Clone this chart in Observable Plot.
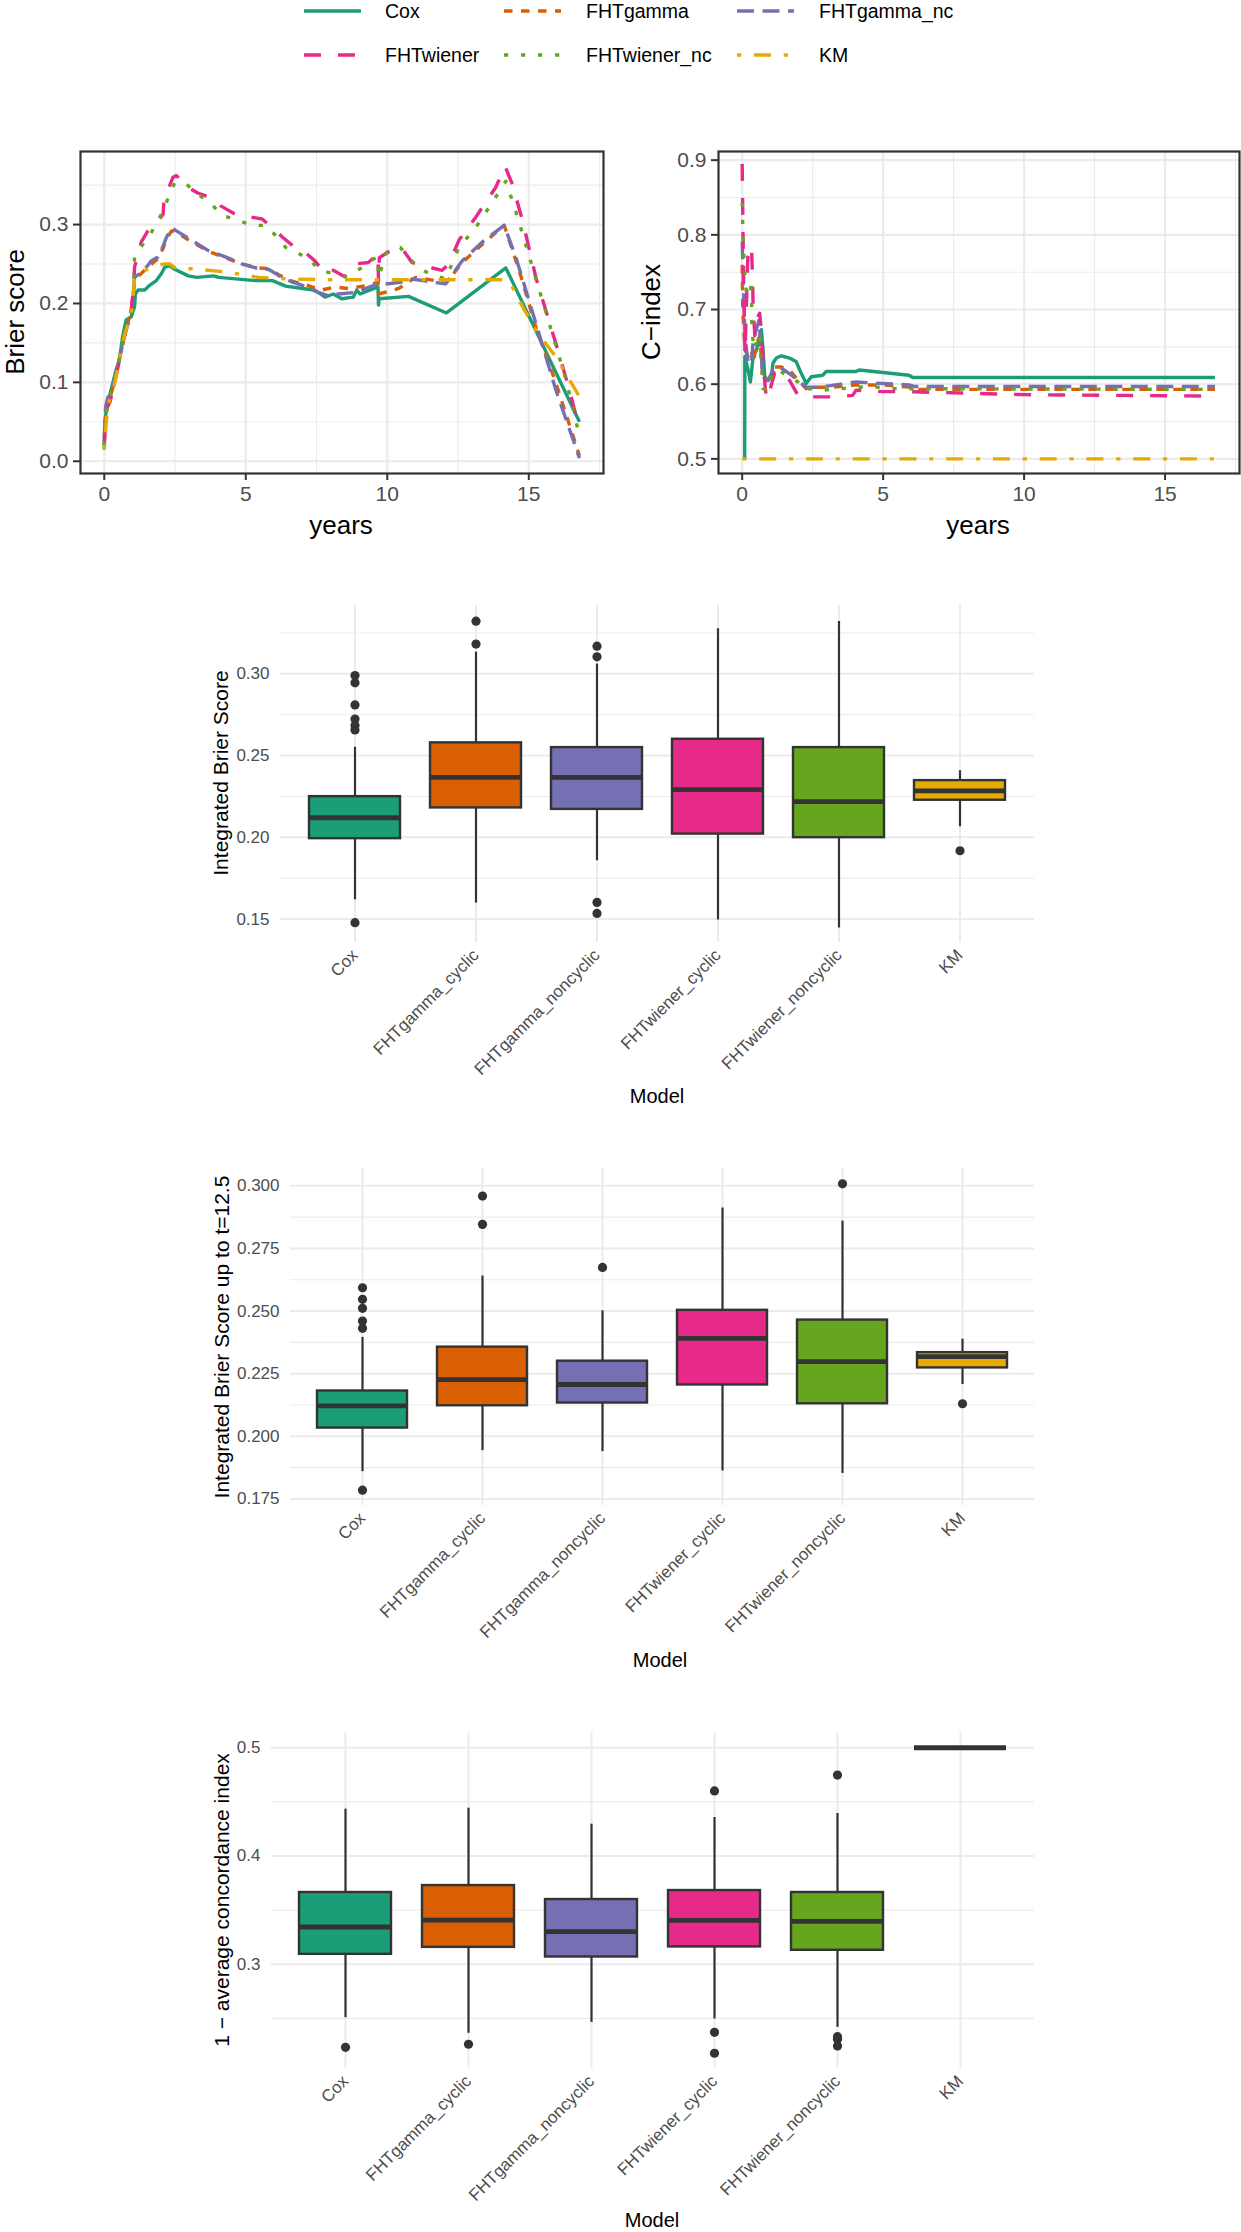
<!DOCTYPE html>
<html><head><meta charset="utf-8">
<script src="https://cdn.jsdelivr.net/npm/d3@7"></script>
<script src="https://cdn.jsdelivr.net/npm/@observablehq/plot@0.6"></script>
<style>
body{margin:0;background:#fff;}
#root{position:relative;width:1241px;height:2232px;overflow:hidden;background:#fff;font-family:"Liberation Sans",Arial,Helvetica,sans-serif;}
.abs{position:absolute;}
.ttl{position:absolute;white-space:nowrap;line-height:1;color:#000;font-family:"Liberation Sans",Arial,Helvetica,sans-serif;}
</style></head><body><div id="root"></div>
<script>
// ---------- series (line charts) ----------
const seriesNames = ["Cox","FHTgamma","FHTgamma_nc","FHTwiener","FHTwiener_nc","KM"];

// Brier score over time: [years, value]
const brierCox = [[0,0.015],[0.02,0.05],[0.06,0.061],[0.18,0.082],[0.3,0.099],[0.42,0.116],[0.53,0.128],[0.65,0.158],[0.77,0.179],[0.95,0.183],[1.07,0.196],[1.1,0.212],[1.19,0.217],[1.43,0.217],[1.6,0.223],[1.84,0.229],[2.02,0.238],[2.14,0.246],[2.3,0.248],[2.45,0.244],[2.97,0.235],[3.27,0.233],[3.86,0.235],[4.04,0.233],[5.34,0.229],[5.94,0.229],[6.41,0.222],[7.0,0.219],[7.44,0.217],[7.8,0.208],[8.09,0.212],[8.39,0.206],[8.8,0.208],[8.92,0.217],[9.04,0.212],[9.67,0.221],[9.69,0.198],[9.71,0.206],[10.75,0.209],[12.09,0.188],[14.19,0.245],[16.79,0.05]];
const brierGamma = [[0,0.025],[0.05,0.06],[0.12,0.072],[0.36,0.1],[0.71,0.16],[0.95,0.19],[1.07,0.225],[1.25,0.236],[1.54,0.246],[1.9,0.257],[2.08,0.27],[2.2,0.282],[2.38,0.292],[2.55,0.29],[3.09,0.278],[3.68,0.266],[4.28,0.258],[4.87,0.25],[5.46,0.245],[5.82,0.244],[6.18,0.236],[6.65,0.228],[7.0,0.225],[7.68,0.217],[8.15,0.221],[8.62,0.219],[9.33,0.223],[9.67,0.227],[9.69,0.212],[10.4,0.219],[11.0,0.233],[11.7,0.229],[12.06,0.225],[12.65,0.252],[13.36,0.275],[14.13,0.299],[14.66,0.242],[15.25,0.17],[15.96,0.099],[16.79,0.007]];
const brierGammaNc = [[0,0.03],[0.05,0.07],[0.12,0.08],[0.36,0.102],[0.71,0.158],[0.95,0.188],[1.07,0.233],[1.25,0.238],[1.54,0.248],[1.66,0.254],[1.9,0.259],[2.08,0.273],[2.2,0.284],[2.38,0.296],[2.55,0.292],[3.09,0.28],[3.68,0.267],[4.28,0.259],[4.87,0.25],[5.46,0.244],[5.82,0.243],[6.18,0.235],[6.65,0.227],[7.0,0.223],[7.56,0.214],[7.91,0.21],[8.27,0.212],[8.86,0.214],[9.67,0.225],[10.04,0.225],[10.5,0.227],[10.87,0.231],[11.58,0.227],[12.06,0.225],[12.65,0.254],[13.36,0.278],[14.13,0.299],[14.54,0.259],[15.25,0.175],[15.96,0.09],[16.79,0.004]];
const brierWiener = [[0,0.02],[0.05,0.06],[0.12,0.069],[0.2,0.075],[0.36,0.099],[0.55,0.13],[0.71,0.158],[0.95,0.191],[1.03,0.217],[1.07,0.246],[1.13,0.254],[1.31,0.278],[1.54,0.292],[1.9,0.305],[2.08,0.313],[2.11,0.332],[2.43,0.36],[2.55,0.362],[2.97,0.347],[3.3,0.34],[3.92,0.332],[4.1,0.324],[4.63,0.313],[5.1,0.31],[5.58,0.307],[5.94,0.296],[6.3,0.284],[6.7,0.272],[7.09,0.265],[7.44,0.254],[7.8,0.238],[8.09,0.242],[8.5,0.234],[8.86,0.25],[9.33,0.252],[9.67,0.263],[9.69,0.229],[9.72,0.258],[10.02,0.265],[10.5,0.271],[10.87,0.252],[11.35,0.247],[11.94,0.242],[12.17,0.25],[12.53,0.28],[13.12,0.309],[13.83,0.347],[14.16,0.374],[14.42,0.351],[14.78,0.305],[15.25,0.233],[15.96,0.149],[16.44,0.09],[16.79,0.04]];
const brierWienerNc = [[0,0.02],[0.05,0.058],[0.12,0.07],[0.36,0.1],[0.71,0.16],[0.95,0.19],[1.03,0.215],[1.07,0.259],[1.3,0.272],[1.6,0.286],[2.02,0.313],[2.32,0.339],[2.49,0.353],[2.91,0.351],[3.27,0.339],[3.62,0.331],[4.22,0.311],[4.75,0.305],[5.23,0.299],[5.7,0.299],[6.06,0.286],[6.41,0.271],[6.89,0.263],[7.3,0.254],[7.62,0.242],[8.09,0.238],[8.5,0.234],[9.04,0.244],[9.39,0.254],[9.67,0.259],[9.69,0.233],[9.98,0.265],[10.46,0.271],[11.0,0.248],[11.47,0.238],[12.06,0.231],[12.53,0.271],[13.12,0.296],[13.71,0.328],[14.19,0.355],[14.54,0.317],[15.13,0.246],[15.72,0.175],[16.32,0.103],[16.79,0.032]];
const brierKM = [[0,0.015],[0.05,0.04],[0.12,0.07],[0.36,0.097],[0.71,0.16],[0.95,0.185],[1.07,0.231],[1.31,0.24],[1.72,0.246],[2.08,0.25],[2.32,0.25],[2.55,0.244],[3.09,0.244],[4.28,0.24],[5.46,0.233],[6.65,0.231],[7.84,0.23],[14.19,0.23],[14.4,0.222],[14.78,0.196],[15.25,0.166],[15.96,0.132],[16.44,0.103],[16.79,0.082]];

// C-index over time: [years, value]
const cCox = [[0.09,0.5],[0.094,0.637],[0.21,0.619],[0.29,0.603],[0.39,0.637],[0.51,0.646],[0.62,0.664],[0.68,0.673],[0.74,0.646],[0.8,0.61],[0.92,0.605],[1.04,0.61],[1.09,0.628],[1.21,0.635],[1.39,0.638],[1.68,0.635],[1.92,0.63],[2.04,0.619],[2.27,0.601],[2.45,0.61],[2.86,0.612],[2.98,0.617],[4.04,0.617],[4.15,0.619],[5.92,0.612],[6.05,0.609],[16.77,0.609]];
const cGamma = [[0,0.76],[0.02,0.7],[0.05,0.681],[0.1,0.646],[0.21,0.637],[0.33,0.646],[0.39,0.628],[0.51,0.655],[0.62,0.664],[0.74,0.61],[0.86,0.605],[1.04,0.61],[1.15,0.623],[1.39,0.623],[1.68,0.619],[1.98,0.605],[2.27,0.594],[2.5,0.596],[3.21,0.596],[4.04,0.599],[4.98,0.599],[5.92,0.596],[6.1,0.593],[16.77,0.593]];
const cGammaNc = [[0,0.79],[0.05,0.726],[0.1,0.664],[0.21,0.628],[0.33,0.628],[0.39,0.659],[0.6,0.686],[0.68,0.637],[0.74,0.605],[0.92,0.605],[1.09,0.619],[1.33,0.623],[1.68,0.614],[1.98,0.605],[2.27,0.596],[2.74,0.596],[4.04,0.603],[4.98,0.601],[5.92,0.599],[6.1,0.597],[16.77,0.597]];
const cWiener = [[0,0.895],[0.03,0.8],[0.06,0.72],[0.1,0.64],[0.2,0.77],[0.33,0.785],[0.37,0.74],[0.39,0.7],[0.45,0.665],[0.5,0.686],[0.62,0.695],[0.66,0.68],[0.74,0.637],[0.78,0.61],[0.86,0.58],[0.98,0.59],[1.04,0.6],[1.15,0.615],[1.45,0.617],[1.68,0.605],[1.98,0.585],[2.3,0.583],[2.86,0.583],[3.33,0.583],[3.92,0.585],[4.04,0.592],[4.98,0.59],[5.8,0.59],[8,0.588],[10,0.586],[16.77,0.584]];
const cWienerNc = [[0,0.843],[0.035,0.794],[0.07,0.762],[0.15,0.722],[0.27,0.717],[0.33,0.74],[0.34,0.681],[0.39,0.655],[0.45,0.646],[0.56,0.668],[0.62,0.665],[0.68,0.628],[0.74,0.594],[0.92,0.592],[1.09,0.617],[1.27,0.619],[1.68,0.61],[1.98,0.603],[2.21,0.592],[2.39,0.594],[2.86,0.592],[4.5,0.597],[5.45,0.594],[16.77,0.593]];
const cKM = [[0,0.5],[16.77,0.5]];

const yearTicks = [0,5,10,15];
const yearMinor = [2.5,7.5,12.5,17.5];
const brierTicks = [0,0.1,0.2,0.3];
const brierMinor = [0.05,0.15,0.25,0.35];
const cTicks = [0.5,0.6,0.7,0.8,0.9];
const cMinor = [0.55,0.65,0.75,0.85];

// ---------- box plots ----------
const models = ["Cox","FHTgamma_cyclic","FHTgamma_noncyclic","FHTwiener_cyclic","FHTwiener_noncyclic","KM"];

const ibsLo  = [0.1618,0.1598,0.1857,0.1494,0.1445,0.2065];
const ibsQ1  = [0.1992,0.2180,0.2171,0.2020,0.1998,0.2227];
const ibsMed = [0.2120,0.2367,0.2367,0.2292,0.2218,0.2284];
const ibsQ3  = [0.2249,0.2578,0.2549,0.2600,0.2549,0.2347];
const ibsHi  = [0.2551,0.3133,0.3060,0.3276,0.3320,0.2408];
const ibsOutliers = [["Cox",0.299],["Cox",0.2945],["Cox",0.281],["Cox",0.2724],["Cox",0.2684],["Cox",0.2657],["Cox",0.1478],["FHTgamma_cyclic",0.3322],["FHTgamma_cyclic",0.3182],["FHTgamma_noncyclic",0.3169],["FHTgamma_noncyclic",0.3104],["FHTgamma_noncyclic",0.1602],["FHTgamma_noncyclic",0.1535],["KM",0.1918]];
const ibsTicks = [0.15,0.20,0.25,0.30];
const ibsMinor = [0.175,0.225,0.275,0.325];

const ibs12Lo  = [0.1859,0.1943,0.1939,0.1862,0.1852,0.2207];
const ibs12Q1  = [0.2033,0.2122,0.2133,0.2205,0.2130,0.2273];
const ibs12Med = [0.2122,0.2226,0.2207,0.2391,0.2298,0.2318];
const ibs12Q3  = [0.2181,0.2356,0.2300,0.2503,0.2464,0.2334];
const ibs12Hi  = [0.2395,0.2640,0.2501,0.2911,0.2859,0.2388];
const ibs12Outliers = [["Cox",0.2593],["Cox",0.2547],["Cox",0.2511],["Cox",0.246],["Cox",0.2431],["Cox",0.1785],["FHTgamma_cyclic",0.2959],["FHTgamma_cyclic",0.2846],["FHTgamma_noncyclic",0.2674],["FHTwiener_noncyclic",0.3008],["KM",0.213]];
const ibs12Ticks = [0.175,0.200,0.225,0.250,0.275,0.300];
const ibs12Minor = [0.1875,0.2125,0.2375,0.2625,0.2875];

const ciLo  = [0.2506,0.2362,0.2463,0.2494,0.2417,0.5];
const ciQ1  = [0.3092,0.3156,0.3067,0.3160,0.3129,0.5];
const ciMed = [0.3344,0.3408,0.3301,0.3405,0.3396,0.5];
const ciQ3  = [0.3663,0.3727,0.3598,0.3681,0.3663,0.5];
const ciHi  = [0.4433,0.4442,0.4294,0.4356,0.4393,0.5];
const ciOutliers = [["Cox",0.2233],["FHTgamma_cyclic",0.2261],["FHTwiener_cyclic",0.4601],["FHTwiener_cyclic",0.2371],["FHTwiener_cyclic",0.2178],["FHTwiener_noncyclic",0.4748],["FHTwiener_noncyclic",0.2331],["FHTwiener_noncyclic",0.2307],["FHTwiener_noncyclic",0.2245]];
const ciTicks = [0.3,0.4,0.5];
const ciMinor = [0.25,0.35,0.45];

// ---------- styles ----------
const palette = ["#1B9E77","#D95F02","#7570B3","#E7298A","#66A61E","#E6AB02"];
const U = 4.25;
const dashUnits = [null,[2,2],[4,2],[4,4],[1,3],[1,3,4,3]];
const dashOf = i => dashUnits[i] ? dashUnits[i].map(v => v*U).join(",") : null;
const GRID = "#EBEBEB", INK = "#333333", TXT = "#4D4D4D";
const FONT = '"Liberation Sans", Arial, Helvetica, sans-serif';

const root = document.getElementById("root");
function place(el, left, top){ el.style.position="absolute"; el.style.left=left+"px"; el.style.top=top+"px"; root.appendChild(el); }
function title(text, cx, cy, size, rotate){
  const d = document.createElement("div");
  d.className = "ttl"; d.textContent = text;
  d.style.left = cx+"px"; d.style.top = cy+"px"; d.style.fontSize = size+"px";
  d.style.transform = "translate(-50%,-50%)" + (rotate ? " rotate(-90deg)" : "");
  root.appendChild(d);
}

// ---------- legend ----------
(function(){
  const cols = [[304,385],[504,586],[737,819]];
  const rows = [11,55];
  let s = `<svg xmlns="http://www.w3.org/2000/svg" width="1241" height="80" style="font-family:${FONT}">`;
  seriesNames.forEach((n,i)=>{
    const c = cols[i%3], y = rows[Math.floor(i/3)];
    const da = dashOf(i);
    s += `<line x1="${c[0]}" x2="${c[0]+57}" y1="${y}" y2="${y}" stroke="${palette[i]}" stroke-width="3.4" ${da?`stroke-dasharray="${da}"`:""}/>`;
    s += `<text x="${c[1]}" y="${y+7}" font-size="19.5" fill="#000">${n}</text>`;
  });
  s += `</svg>`;
  const d = document.createElement("div"); d.innerHTML = s; place(d, 0, 0);
})();

// ---------- line charts ----------
function linePanel(series, yDomain, yTicks, yMinor, fmt, opts){
  const marks = [
    Plot.ruleX(yearMinor, {stroke: GRID, strokeWidth: 1.1}),
    Plot.ruleY(yMinor, {stroke: GRID, strokeWidth: 1.1}),
    Plot.ruleX(yearTicks, {stroke: GRID, strokeWidth: 2.2}),
    Plot.ruleY(yTicks, {stroke: GRID, strokeWidth: 2.2})
  ];
  series.forEach((data,i)=>{
    marks.push(Plot.line(data, {x: d=>d[0], y: d=>d[1], stroke: palette[i], strokeWidth: 3.4,
      strokeDasharray: dashOf(i), strokeLinecap: "butt", strokeLinejoin: "round", curve: "linear"}));
  });
  marks.push(Plot.frame({stroke: INK, strokeWidth: 2.2}));
  marks.push(Plot.axisX({ticks: yearTicks, tickSize: 7, tickPadding: 6, fontSize: 21, fill: TXT, stroke: INK, strokeWidth: 2, label: null}));
  marks.push(Plot.axisY({ticks: yTicks, tickFormat: fmt, tickSize: 7, tickPadding: 5, fontSize: 21, fill: TXT, stroke: INK, strokeWidth: 2, label: null}));
  return Plot.plot({
    width: opts.width, height: opts.height,
    marginLeft: opts.ml, marginRight: opts.mr, marginTop: opts.mt, marginBottom: opts.mb,
    x: {domain: [-0.84, 17.64]},
    y: {domain: yDomain},
    style: {fontFamily: FONT, background: "transparent", overflow: "visible"},
    marks
  });
}

const brierPlot = linePanel([brierCox, brierGamma, brierGammaNc, brierWiener, brierWienerNc, brierKM],
  [-0.0155, 0.3926], brierTicks, brierMinor, d3.format(".1f"),
  {width: 620, height: 440, ml: 80, mr: 17, mt: 51, mb: 67});
place(brierPlot, 0, 100);
title("Brier score", 15, 312, 26, true);
title("years", 341, 525, 26, false);

const cPlot = linePanel([cCox, cGamma, cGammaNc, cWiener, cWienerNc, cKM],
  [0.4804, 0.9116], cTicks, cMinor, d3.format(".1f"),
  {width: 621, height: 440, ml: 98, mr: 2, mt: 51, mb: 67});
place(cPlot, 620, 100);
title("C\u2212index", 651, 312, 26, true);
title("years", 978, 525, 26, false);

// ---------- box plots ----------
function boxPanel(st, yDomain, yTicks, yMinor, fmt, opts){
  const [lo, q1, med, q3, hi, outliers] = st;
  return Plot.plot({
    width: 1241, height: opts.height,
    marginLeft: opts.ml, marginRight: 207, marginTop: opts.mt, marginBottom: opts.mb,
    x: {type: "band", domain: models, paddingInner: 0.25, paddingOuter: 0.225},
    y: {domain: yDomain},
    color: {domain: models, range: palette},
    style: {fontFamily: FONT, background: "transparent", overflow: "visible"},
    marks: [
      Plot.ruleY(yMinor, {stroke: GRID, strokeWidth: 1.1}),
      Plot.ruleY(yTicks, {stroke: GRID, strokeWidth: 2}),
      Plot.ruleX(models, {x: d=>d, stroke: GRID, strokeWidth: 2}),
      Plot.ruleX(models, {x: d=>d, y1: (d,i)=>lo[i], y2: (d,i)=>hi[i], stroke: INK, strokeWidth: 2.2}),
      Plot.barY(models, {x: d=>d, y1: (d,i)=>q1[i], y2: (d,i)=>q3[i], fill: d=>d, stroke: INK, strokeWidth: 2.4}),
      Plot.tickY(models, {x: d=>d, y: (d,i)=>med[i], stroke: INK, strokeWidth: 4.8}),
      Plot.dot(outliers, {x: d=>d[0], y: d=>d[1], r: 4.6, fill: INK, stroke: null}),
      Plot.axisY({ticks: yTicks, tickFormat: fmt, tickSize: 0, tickPadding: 11, fontSize: 17, fill: TXT, label: null}),
      Plot.axisX({tickRotate: -45, tickSize: 0, tickPadding: 10, fontSize: 17, fill: TXT, label: null, textAnchor: "end"})
    ]
  });
}

const box1 = boxPanel([ibsLo, ibsQ1, ibsMed, ibsQ3, ibsHi, ibsOutliers], [0.1357, 0.3418], ibsTicks, ibsMinor, d3.format(".2f"),
  {height: 520, ml: 280, mt: 25, mb: 158});
place(box1, 0, 580);
title("Integrated Brier Score", 220, 773, 21, true);
title("Model", 657, 1096, 20, false);

const box2 = boxPanel([ibs12Lo, ibs12Q1, ibs12Med, ibs12Q3, ibs12Hi, ibs12Outliers], [0.1724, 0.3069], ibs12Ticks, ibs12Minor, d3.format(".3f"),
  {height: 520, ml: 290, mt: 28, mb: 155});
place(box2, 0, 1140);
title("Integrated Brier Score up to t=12.5", 221, 1337, 21, true);
title("Model", 660, 1660, 20, false);

const box3 = boxPanel([ciLo, ciQ1, ciMed, ciQ3, ciHi, ciOutliers], [0.2037, 0.5141], ciTicks, ciMinor, d3.format(".1f"),
  {height: 520, ml: 271, mt: 32, mb: 152});
place(box3, 0, 1700);
title("1 \u2212 average concordance index", 221, 1900, 21, true);
title("Model", 652, 2220, 20, false);
</script></body></html>
